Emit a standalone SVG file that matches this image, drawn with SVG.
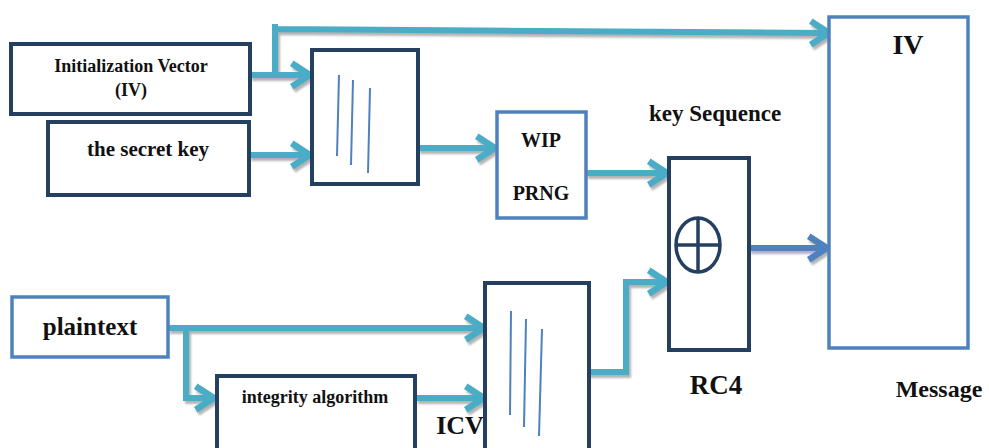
<svg xmlns="http://www.w3.org/2000/svg" width="989" height="448" viewBox="0 0 989 448">
<style>
.dk{fill:#fff;stroke:#243f60;stroke-width:4}
.bl{fill:#fff;stroke:#4f81bd;stroke-width:3.5}
.t{font-family:'Liberation Serif','Times New Roman','DejaVu Serif',serif;font-weight:bold;fill:#111;text-anchor:middle}
.c{fill:none;stroke:#4bacc6;stroke-width:6}
.cb{fill:none;stroke:#4f81bd;stroke-width:6}
.ln{stroke:#4f81bd;stroke-width:2}
</style>
<defs>
<filter id="sh" x="-10%" y="-10%" width="130%" height="150%"><feDropShadow dx="2" dy="3" stdDeviation="1.2" flood-color="#808080" flood-opacity="0.6"/></filter>
<marker id="a" markerUnits="userSpaceOnUse" markerWidth="30" markerHeight="30" viewBox="-2 -14 26 28" refX="20" refY="0" orient="auto"><path d="M2,-11 L19,0 L2,11" fill="none" stroke="#4bacc6" stroke-width="6"/></marker>
<marker id="ab" markerUnits="userSpaceOnUse" markerWidth="30" markerHeight="30" viewBox="-2 -14 26 28" refX="20" refY="0" orient="auto"><path d="M2,-11 L19,0 L2,11" fill="none" stroke="#4f81bd" stroke-width="6"/></marker>
</defs>
<g id="connectors" filter="url(#sh)">
<path class="c" d="M275,75 V24 M275,29 L830,33" marker-end="url(#a)"/>
<path class="c" d="M250,75 H311" marker-end="url(#a)"/>
<path class="c" d="M249,155 H311" marker-end="url(#a)"/>
<path class="c" d="M418,148 H496" marker-end="url(#a)"/>
<path class="c" d="M586,173 H668" marker-end="url(#a)"/>
<path class="cb" d="M749,248 H828" marker-end="url(#ab)"/>
<path class="c" d="M168,328 H485" marker-end="url(#a)"/>
<path class="c" d="M186,328 V398 H215" marker-end="url(#a)"/>
<path class="c" d="M416,398 H485" marker-end="url(#a)"/>
<path class="c" d="M588,372 H626 V282 H668" marker-end="url(#a)"/>
</g>
<g id="iv"><rect class="dk" x="11" y="44" width="239" height="70"/><text class="t" x="131" y="72" font-size="18">Initialization Vector</text><text class="t" x="131" y="96" font-size="18">(IV)</text></g>
<g id="secret-key"><rect class="dk" x="48" y="122" width="201" height="73"/><text class="t" x="148" y="156" font-size="21">the secret key</text></g>
<g id="mixer1"><rect class="dk" x="312" y="50" width="106" height="134"/><line class="ln" x1="339" y1="75" x2="337" y2="156"/><line class="ln" x1="353" y1="80" x2="351" y2="165"/><line class="ln" x1="370" y1="88" x2="368" y2="173"/></g>
<g id="wip-prng"><rect class="bl" x="497" y="112" width="89" height="106"/><text class="t" x="541" y="147" font-size="20">WIP</text><text class="t" x="541" y="200" font-size="20">PRNG</text></g>
<g id="key-seq-label"><text class="t" x="715" y="121" font-size="23">key Sequence</text></g>
<g id="rc4"><rect class="dk" x="669" y="158" width="80" height="192"/><ellipse cx="698" cy="245" rx="22" ry="27" fill="none" stroke="#243f60" stroke-width="3.5"/><line x1="676" y1="245" x2="720" y2="245" stroke="#243f60" stroke-width="3.5"/><line x1="698" y1="218" x2="698" y2="272" stroke="#243f60" stroke-width="3.5"/><text class="t" x="716" y="394" font-size="27">RC4</text></g>
<g id="message"><rect class="bl" x="829" y="17" width="139" height="331"/><text class="t" x="908" y="54" font-size="28">IV</text><text class="t" x="939" y="397" font-size="24">Message</text></g>
<g id="plaintext"><rect class="bl" x="12" y="297" width="156" height="60"/><text class="t" x="90" y="335" font-size="25">plaintext</text></g>
<g id="integrity"><rect class="dk" x="217" y="376" width="198" height="74"/><text class="t" x="315" y="403" font-size="18">integrity algorithm</text></g>
<g id="icv-label"><text class="t" x="460" y="434" font-size="26">ICV</text></g>
<g id="mixer2"><rect class="dk" x="485" y="283" width="104" height="170"/><line class="ln" x1="511" y1="311" x2="510" y2="415"/><line class="ln" x1="526" y1="319" x2="524" y2="427"/><line class="ln" x1="542" y1="329" x2="539" y2="436"/></g>
</svg>
